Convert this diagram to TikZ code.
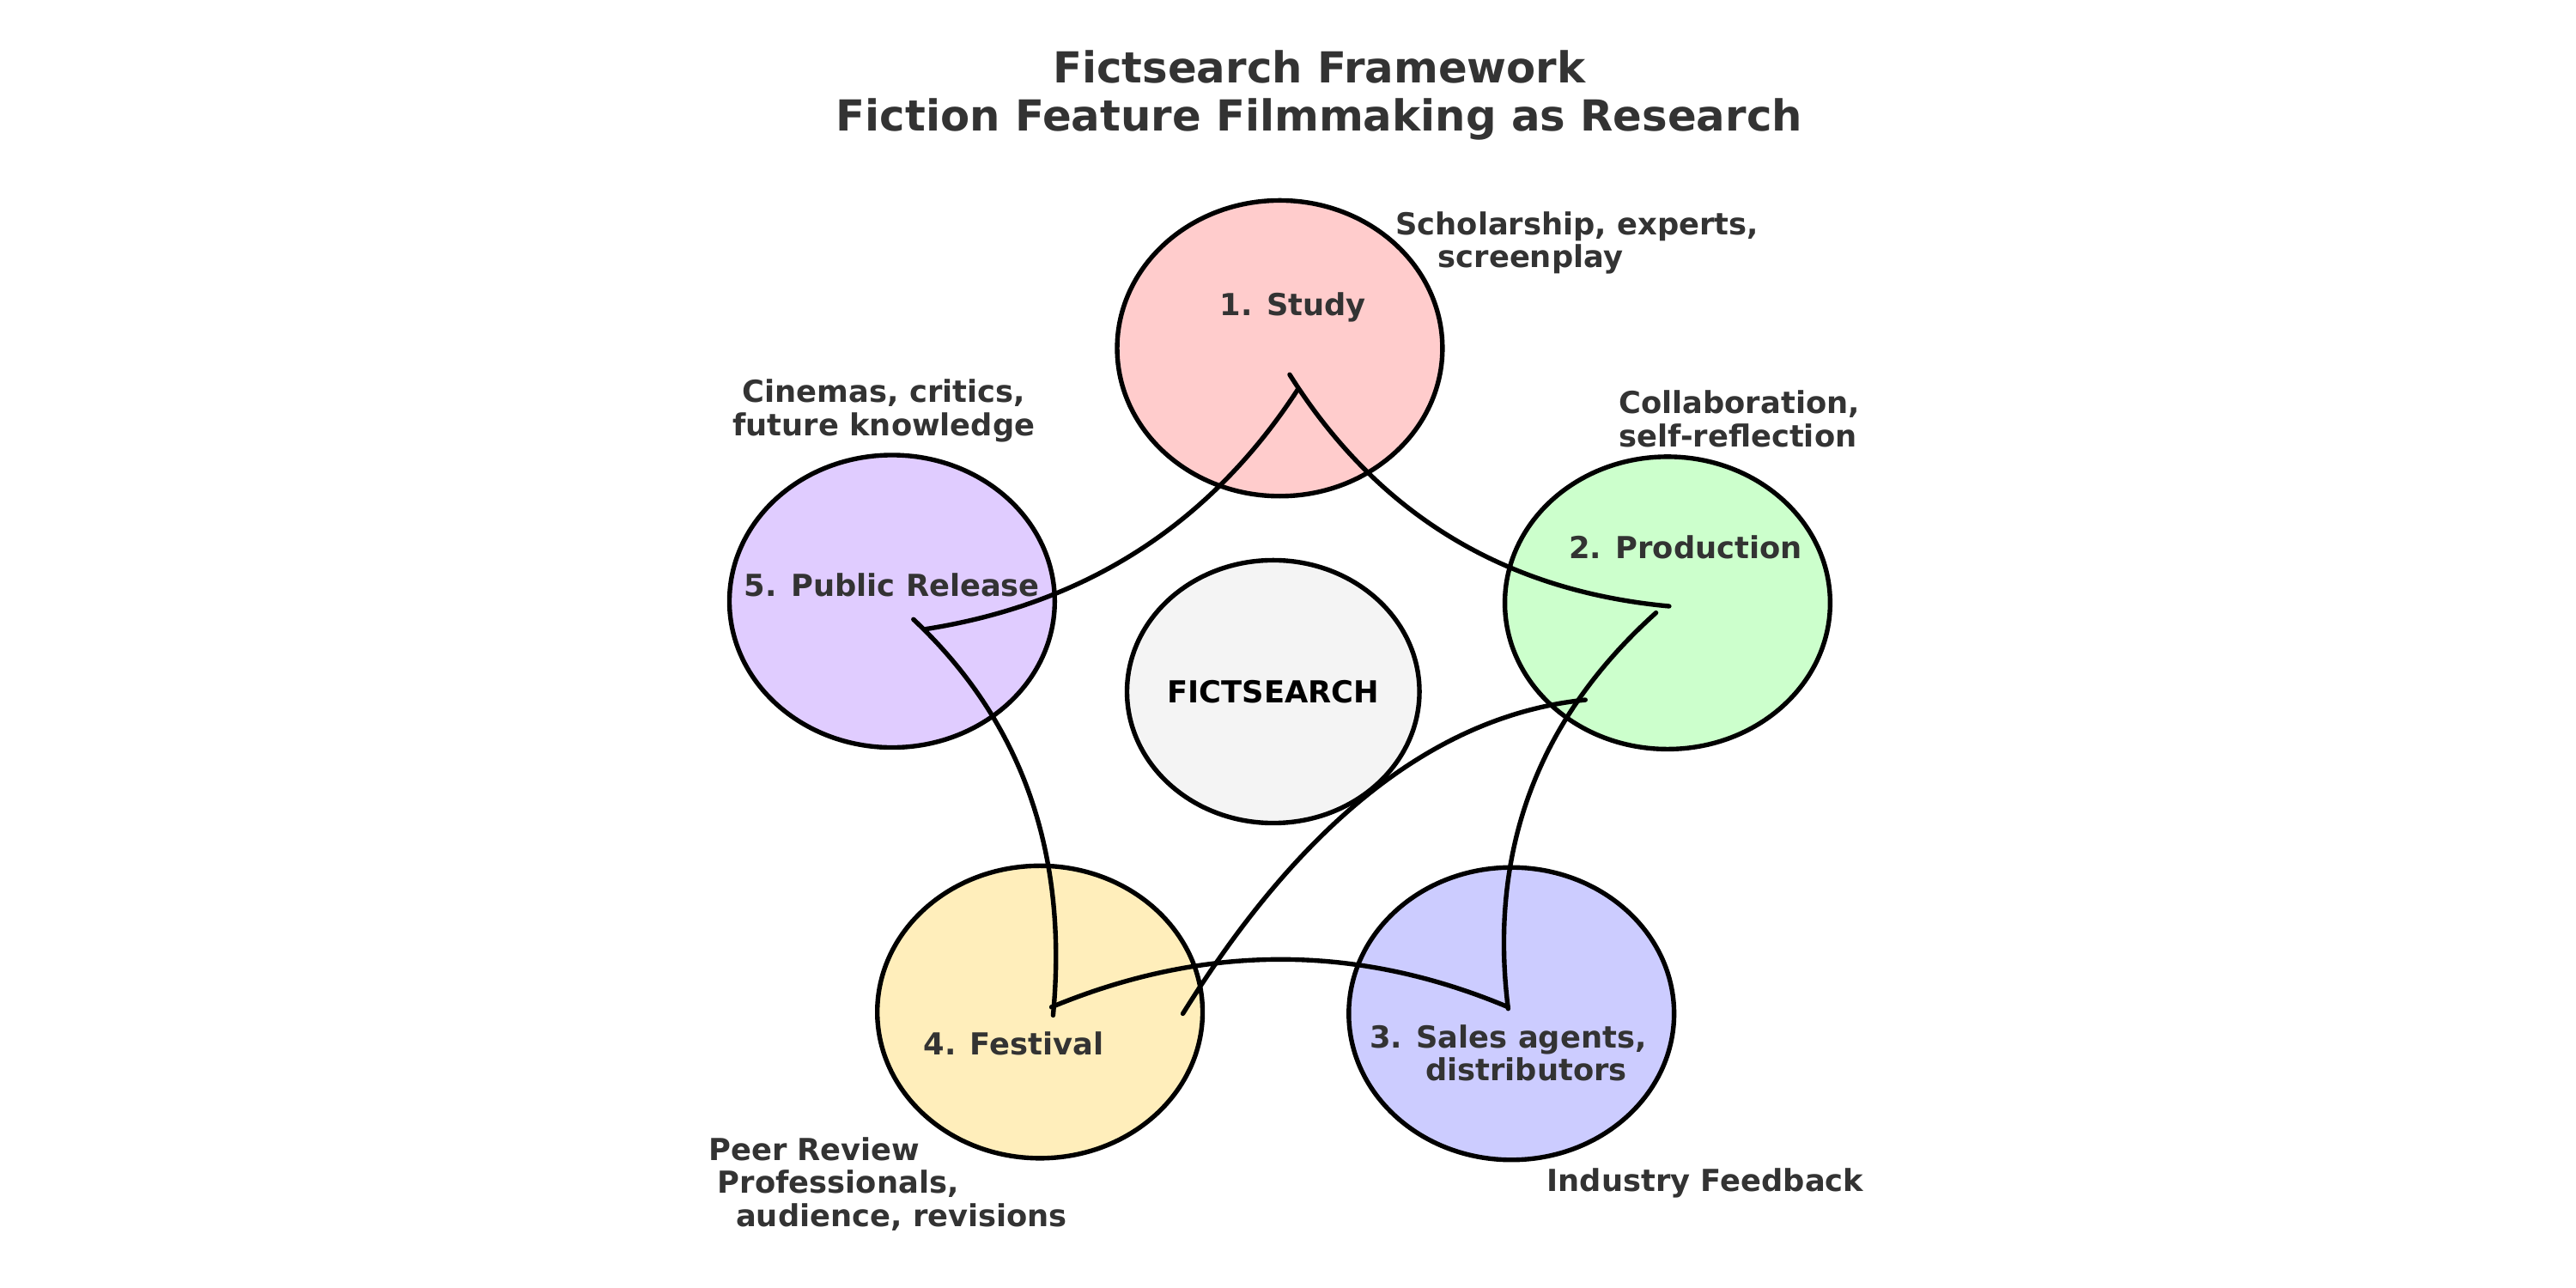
\documentclass[tikz,border=0pt]{standalone}
\usepackage{fontspec}
\usetikzlibrary{calc}
\setmainfont{DejaVu Sans}
\begin{document}
\begin{tikzpicture}[x=0.02cm,y=-0.02cm,
  stage/.style={draw=black,line width=1.6pt},
  lab/.style={font=\bfseries\fontsize{10.5}{11.4}\selectfont,text=txt,inner sep=0pt},
  link/.style={draw=black,line width=1.6pt,line cap=round}]
\definecolor{txt}{HTML}{333333}
\newcommand\qcurve[3]{\draw[link] (#1) .. controls ($(#1)!0.667!(#2)$) and ($(#3)!0.667!(#2)$) .. (#3);}
\useasboundingbox (0,0) rectangle (1568,784);
\fill[white] (0,0) rectangle (1568,784);
\node[font=\bfseries\fontsize{14.8}{16.5}\selectfont,text=txt,align=center] (title) at (803,58) {Fictsearch Framework\\Fiction Feature Filmmaking as Research};
\fill[stage,fill={rgb,255:red,255;green,204;blue,204}] (779,212) ellipse [x radius=99,y radius=90];
\fill[stage,fill={rgb,255:red,204;green,255;blue,204}] (1015,367) ellipse [x radius=99,y radius=89];
\fill[stage,fill={rgb,255:red,204;green,204;blue,255}] (920,617) ellipse [x radius=99,y radius=89];
\fill[stage,fill={rgb,255:red,255;green,238;blue,187}] (633,616) ellipse [x radius=99,y radius=89];
\fill[stage,fill={rgb,255:red,224;green,204;blue,255}] (543,366) ellipse [x radius=99,y radius=89];
\fill[stage,fill={rgb,255:red,244;green,244;blue,244}] (775,421) ellipse [x radius=89,y radius=80];
\coordinate (a1) at (785,228); \coordinate (b1) at (1016,369); \coordinate (c1) at (865,355);
\coordinate (a2) at (790,237); \coordinate (b2) at (563,383); \coordinate (c2) at (710,360);
\coordinate (a3) at (1008,373); \coordinate (b3) at (918,614); \coordinate (c3) at (900,470);
\coordinate (a4) at (965,426); \coordinate (b4) at (720,617); \coordinate (c4) at (830,440);
\coordinate (a5) at (918,613); \coordinate (b5) at (640,613); \coordinate (c5) at (780,555);
\coordinate (a6) at (556,377); \coordinate (b6) at (641,618); \coordinate (c6) at (655,470);
\qcurve{a1}{c1}{b1}
\qcurve{a2}{c2}{b2}
\qcurve{a3}{c3}{b3}
\qcurve{a4}{c4}{b4}
\qcurve{a5}{c5}{b5}
\qcurve{a6}{c6}{b6}
\node[font=\bfseries\fontsize{10.5}{12}\selectfont,text=black] (core) at (775,421) {FICTSEARCH};
\node[lab] (s1) at (787,187) {1. Study};
\node[lab] (s2) at (1026,333) {2. Production};
\node[lab,align=center] (s3) at (918,641) {3. Sales agents,\\\hspace*{1.2em}distributors};
\node[lab] (s4) at (617,635) {4. Festival};
\node[lab] (s5) at (543,356) {5. Public Release};
\node[lab,align=left] (n1) at (960,148) {Scholarship, experts,\\\hspace*{1.4em}screenplay};
\node[lab,align=left,anchor=west] (n2) at (985,255) {Collaboration,\\self-reflection};
\node[lab,align=center] (n5) at (538,250) {Cinemas, critics,\\future knowledge};
\node[lab,align=left,anchor=north west] (n4) at (431,692) {Peer Review\\\hspace*{0.3em}Professionals,\\\hspace*{0.9em}audience, revisions};
\node[lab] (n3) at (1038,720) {Industry Feedback};
\end{tikzpicture}
\end{document}
